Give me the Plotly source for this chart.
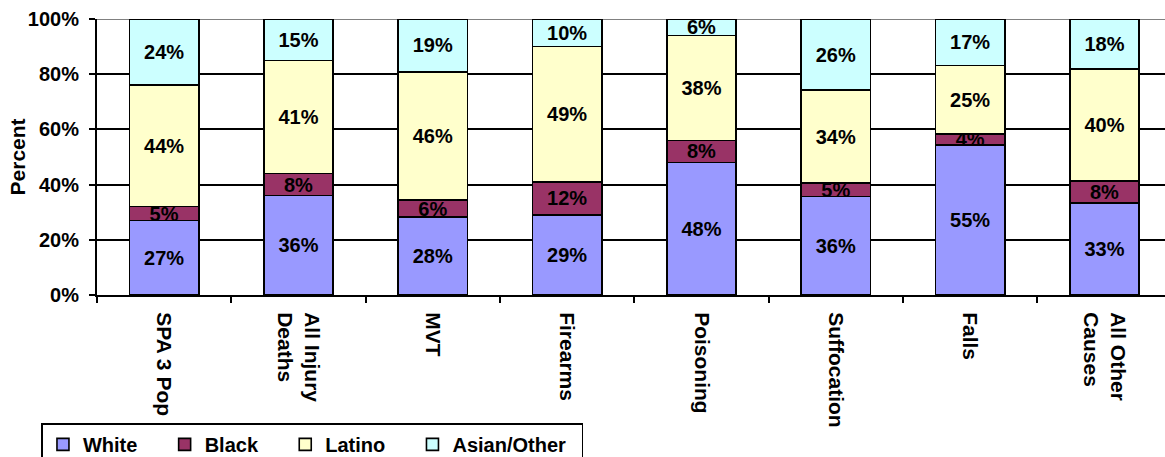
import plotly.graph_objects as go

categories = ["SPA 3 Pop", "All Injury<br>Deaths", "MVT", "Firearms",
              "Poisoning", "Suffocation", "Falls", "All Other<br>Causes"]
white = [27, 36, 28, 29, 48, 36, 55, 33]
black = [5, 8, 6, 12, 8, 5, 4, 8]
latino = [44, 41, 46, 49, 38, 34, 25, 40]
asian_other = [24, 15, 19, 10, 6, 26, 17, 18]

NB = "\u00a0"
series = [
    ("White", white, "#9999FF", 4),
    ("Black", black, "#993366", 4),
    ("Latino", latino, "#FFFFCC", 4),
    ("Asian/Other", asian_other, "#CCFFFF", 2),
]

FONT = "Liberation Sans, Arial, sans-serif"

fig = go.Figure()
for name, vals, color, pad in series:
    fig.add_trace(go.Bar(
        x=categories, y=vals, name=name + NB * pad,
        marker=dict(color=color, line=dict(color="black", width=1.6)),
        text=[f"{v}%" for v in vals],
        textposition="inside",
        insidetextanchor="middle",
        textangle=0,
        insidetextfont=dict(family=FONT, size=20, color="black", weight="bold"),
        width=0.515,
        hoverinfo="skip",
    ))

fig.update_layout(
    barmode="stack",
    barnorm="percent",
    width=1165, height=457,
    margin=dict(l=97, r=0, t=19, b=162, autoexpand=False),
    paper_bgcolor="white",
    plot_bgcolor="white",
    font=dict(family=FONT, size=19, color="black", weight="bold"),
    uniformtext=dict(minsize=20, mode="show"),
    showlegend=True,
    legend=dict(
        orientation="h",
        x=-0.052, xanchor="left",
        y=-0.465, yanchor="top",
        bordercolor="black", borderwidth=1.5,
        bgcolor="white",
        font=dict(family=FONT, size=20, color="black", weight="bold"),
        traceorder="normal",
        itemwidth=30,
    ),
    xaxis=dict(
        range=[-0.5, 7.45],
        tickangle=90,
        ticks="outside", ticklen=6, tickwidth=2, tickcolor="black",
        tickson="boundaries",
        showline=True, linecolor="black", linewidth=2,
        showgrid=False,
        tickfont=dict(family=FONT, size=21, color="black", weight="bold"),
        ticklabelstandoff=11,
    ),
    yaxis=dict(
        range=[0, 100],
        dtick=20,
        ticksuffix="%",
        ticks="outside", ticklen=6, tickwidth=2, tickcolor="black",
        showline=True, linecolor="black", linewidth=2,
        showgrid=True, gridcolor="black", gridwidth=1.6,
        zeroline=False,
        tickfont=dict(family=FONT, size=20, color="black", weight="bold"),
        ticklabelstandoff=6,
    ),
    annotations=[dict(
        text="Percent", textangle=-90,
        xref="paper", yref="paper", x=-0.0745, y=0.5,
        xanchor="center", yanchor="middle", showarrow=False,
        font=dict(family=FONT, size=21, color="black", weight="bold"),
    )],
    shapes=[dict(
        type="line", xref="paper", yref="y", x0=0, x1=1, y0=100, y1=100,
        line=dict(color="#808080", width=2), layer="between",
    )],
)

fig.write_html("out.html")
